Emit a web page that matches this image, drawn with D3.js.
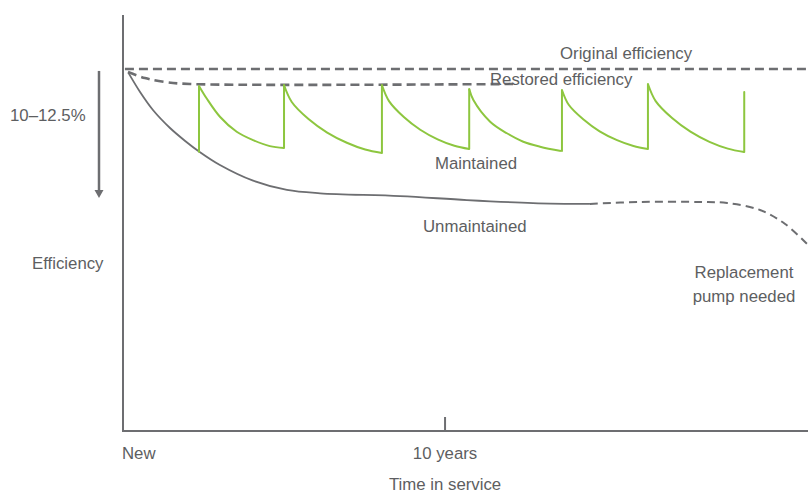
<!DOCTYPE html>
<html>
<head>
<meta charset="utf-8">
<script src="https://cdn.jsdelivr.net/npm/d3@7"></script>
<style>
  body { margin: 0; background: #fff; }
  text { font-family: "Liberation Sans", Arial, sans-serif; font-size: 16.8px; fill: #5d5e61; }
</style>
</head>
<body>
<div id="chart"></div>
<script>
// Values: x in years in service, y in efficiency loss (%)
const originalLine = [[0.06, 0], [21.27, 0]];
const restoredLine = [[0.155, 0.26], [0.68, 0.79], [1.30, 1.13], [2.08, 1.31], [12.11, 1.31]];
const unmaintained = [[0.165, 0.32], [0.53, 2.01], [0.93, 3.58], [1.46, 5.15], [1.93, 6.28],
  [2.37, 7.22], [3.01, 8.38], [4.04, 9.75], [5.09, 10.56], [6.12, 10.85], [8.60, 11.09],
  [10.68, 11.44], [12.73, 11.70], [14.50, 11.78]];
const unmaintainedLater = [[14.50, 11.78], [16.06, 11.61], [17.92, 11.61], [18.76, 11.70],
  [19.78, 12.31], [20.56, 13.53], [21.27, 15.36]];

// maintenance events: year, loss before, loss after
const serviceYears = [2.36, 5.00, 8.04, 10.75, 13.63, 16.30, 19.29];
const lossBefore = [7.22, 6.90, 7.33, 6.98, 7.16, 6.98, 7.25];
const lossAfter = [1.48, 1.40, 1.40, 1.75, 1.83, 1.31, 2.01];
// decay between services
const decays = [
  [[2.36, 1.48], [2.60, 2.58], [3.01, 4.17], [3.53, 5.48], [4.04, 6.21], [4.56, 6.73], [5.00, 6.90]],
  [[5.00, 1.40], [5.24, 2.88], [5.76, 4.37], [6.34, 5.55], [6.95, 6.44], [7.52, 7.03], [8.04, 7.33]],
  [[8.04, 1.40], [8.26, 2.80], [8.72, 4.19], [9.23, 5.30], [9.77, 6.14], [10.29, 6.70], [10.75, 6.98]],
  [[10.75, 1.75], [10.88, 2.71], [11.40, 4.60], [11.92, 5.61], [12.43, 6.35], [12.95, 6.78], [13.60, 7.16]],
  [[13.63, 1.83], [13.84, 3.12], [14.30, 4.41], [14.80, 5.44], [15.34, 6.21], [15.85, 6.72], [16.30, 6.98]],
  [[16.30, 1.31], [16.54, 2.80], [17.05, 4.28], [17.62, 5.47], [18.21, 6.36], [18.78, 6.95], [19.29, 7.25]]
];
const rangeArrow = [0.17, 11.25];
const xTicks = [10];

const width = 808, height = 490;

const x = d3.scaleLinear().domain([0, 21.27]).range([123, 808]);
const y = d3.scaleLinear().domain([0, 31.6]).range([69, 431]);

const svg = d3.select("#chart").append("svg")
  .attr("width", width)
  .attr("height", height);

const line = d3.line().x(d => x(d[0])).y(d => y(d[1]));
const smooth = d3.line().x(d => x(d[0])).y(d => y(d[1])).curve(d3.curveCatmullRom.alpha(0.5));

const grey = "#6d6e71";

// axes
svg.append("line")
  .attr("x1", x(0)).attr("x2", x(0))
  .attr("y1", y(-4.71)).attr("y2", y(31.6))
  .attr("stroke", grey).attr("stroke-width", 2);
svg.append("line")
  .attr("x1", x(0) - 1).attr("x2", x(21.27))
  .attr("y1", y(31.6)).attr("y2", y(31.6))
  .attr("stroke", grey).attr("stroke-width", 2);
svg.selectAll(".tick").data(xTicks).enter().append("line")
  .attr("x1", d => x(d)).attr("x2", d => x(d))
  .attr("y1", y(31.6) - 14).attr("y2", y(31.6))
  .attr("stroke", grey).attr("stroke-width", 2);

// reference levels
svg.append("path").attr("d", line(originalLine))
  .attr("fill", "none").attr("stroke", grey)
  .attr("stroke-width", 2.6).attr("stroke-dasharray", "9,5");
svg.append("path").attr("d", smooth(restoredLine))
  .attr("fill", "none").attr("stroke", grey)
  .attr("stroke-width", 2.6).attr("stroke-dasharray", "9,5");

// unmaintained
svg.append("path").attr("d", smooth(unmaintained))
  .attr("fill", "none").attr("stroke", grey).attr("stroke-width", 1.8);
svg.append("path").attr("d", smooth(unmaintainedLater))
  .attr("fill", "none").attr("stroke", grey)
  .attr("stroke-width", 2).attr("stroke-dasharray", "8,5");

// maintained sawtooth
const green = "#8dc63f";
svg.selectAll(".decay").data(decays).enter().append("path")
  .attr("d", d => smooth(d))
  .attr("fill", "none").attr("stroke", green).attr("stroke-width", 2);
svg.selectAll(".jump").data(serviceYears).enter().append("line")
  .attr("x1", d => x(d)).attr("x2", d => x(d))
  .attr("y1", (d, i) => y(lossBefore[i])).attr("y2", (d, i) => y(lossAfter[i]))
  .attr("stroke", green).attr("stroke-width", 2).attr("stroke-linecap", "round");

// range arrow
svg.append("line")
  .attr("x1", 99).attr("x2", 99)
  .attr("y1", y(rangeArrow[0])).attr("y2", y(rangeArrow[1]) - 7)
  .attr("stroke", grey).attr("stroke-width", 2.5);
svg.append("path")
  .attr("d", d3.line()([[94.5, y(rangeArrow[1]) - 8], [103.5, y(rangeArrow[1]) - 8], [99, y(rangeArrow[1])]]) + "Z")
  .attr("fill", grey);

// annotations
const labels = [
  { t: "10\u201312.5%", x: 10, y: 121, a: "start" },
  { t: "Efficiency", x: 32, y: 269, a: "start" },
  { t: "Original efficiency", x: 560, y: 59, a: "start" },
  { t: "Restored efficiency", x: 490, y: 85, a: "start" },
  { t: "Maintained", x: 435, y: 169, a: "start" },
  { t: "Unmaintained", x: 423, y: 232, a: "start" },
  { t: "Replacement", x: 744, y: 278, a: "middle" },
  { t: "pump needed", x: 744, y: 302, a: "middle" },
  { t: "New", x: 122, y: 459, a: "start" },
  { t: "10 years", x: x(10), y: 459, a: "middle" },
  { t: "Time in service", x: x(10), y: 490, a: "middle" }
];
svg.selectAll(".label").data(labels).enter().append("text")
  .attr("x", d => d.x).attr("y", d => d.y)
  .attr("text-anchor", d => d.a)
  .text(d => d.t);
</script>
</body>
</html>
